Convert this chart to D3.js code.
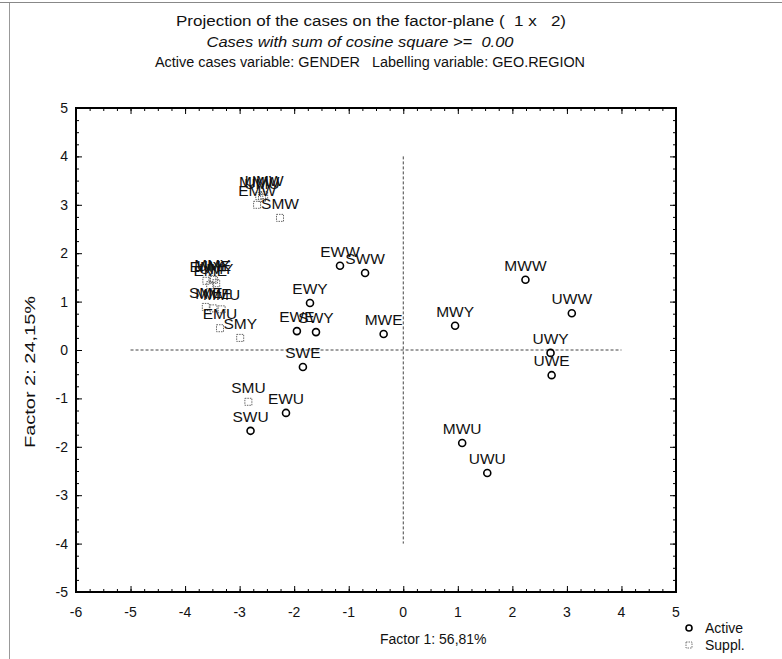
<!DOCTYPE html>
<html>
<head>
<meta charset="utf-8">
<script src="https://cdn.jsdelivr.net/npm/d3@7"></script>
<style>
  html, body { margin: 0; padding: 0; background: #fff; }
  svg { display: block; font-family: "Liberation Sans", Arial, sans-serif; }
  text { white-space: pre; }
</style>
</head>
<body>
<svg id="chart" width="782" height="659"></svg>
<script>
// ---- data ----
const activeLabels = ["EWW","SWW","EWY","EWE","SWY","SWE","EWU","SWU","MWE","MWY","MWW","UWW","UWY","UWE","MWU","UWU"];
const activeX = [-1.16,-0.70,-1.71,-1.95,-1.60,-1.84,-2.15,-2.80,-0.36,0.95,2.24,3.09,2.70,2.72,1.08,1.54];
const activeY = [1.74,1.59,0.97,0.39,0.37,-0.35,-1.30,-1.67,0.33,0.50,1.45,0.76,-0.06,-0.52,-1.92,-2.54];

const supplLabels = ["EMW","MMW","UMW","UMU","SMW","EMY","MMY","UMY","EME","UME","SME","MME","MMU","EMU","SMY","SMU"];
const supplX = [-2.68,-2.64,-2.55,-2.59,-2.26,-3.61,-3.50,-3.43,-3.54,-3.47,-3.62,-3.48,-3.33,-3.36,-2.99,-2.84];
const supplY = [3.00,3.18,3.20,3.14,2.73,1.43,1.47,1.38,1.34,1.45,0.89,0.86,0.84,0.45,0.25,-1.07];

const xTicks = [-6,-5,-4,-3,-2,-1,0,1,2,3,4,5];
const yTicks = [-5,-4,-3,-2,-1,0,1,2,3,4,5];
const titleLines = [
  "Projection of the cases on the factor-plane (  1 x   2)",
  "Cases with sum of cosine square >=  0.00",
  "Active cases variable: GENDER   Labelling variable: GEO.REGION"
];
const xTitle = "Factor 1: 56,81%";
const yTitle = "Factor 2: 24,15%";
const legendItems = ["Active", "Suppl."];

// ---- layout ----
const svg = d3.select("#chart");
const L = 76, R = 676, T = 108, B = 592;
const x = d3.scaleLinear().domain([-6, 5]).range([L, R]);
const y = d3.scaleLinear().domain([-5, 5]).range([B, T]);

// scan borders
svg.append("line").attr("x1", 0).attr("x2", 782).attr("y1", 2.5).attr("y2", 2.5)
  .attr("stroke", "#888").attr("stroke-width", 1);
svg.append("line").attr("x1", 9.5).attr("x2", 9.5).attr("y1", 3).attr("y2", 659)
  .attr("stroke", "#999").attr("stroke-width", 1);

// titles
const tSpec = [
  { cx: 371, y: 26, w: 390 },
  { cx: 360, y: 47, w: 307 },
  { cx: 370, y: 67, w: 430 }
];
titleLines.forEach((t, i) => {
  svg.append("text").attr("x", tSpec[i].cx - tSpec[i].w / 2).attr("y", tSpec[i].y)
    .attr("font-size", 14)
    .attr("textLength", tSpec[i].w).attr("lengthAdjust", "spacingAndGlyphs")
    .attr("font-style", i === 1 ? "italic" : "normal")
    .attr("fill", "#111").text(t);
});

// reference lines
svg.append("line").attr("x1", x(-5)).attr("x2", x(4)).attr("y1", y(0)).attr("y2", y(0))
  .attr("stroke", "#444").attr("stroke-width", 1).attr("stroke-dasharray", "3,2");
svg.append("line").attr("x1", x(0)).attr("x2", x(0)).attr("y1", y(4)).attr("y2", y(-4))
  .attr("stroke", "#444").attr("stroke-width", 1).attr("stroke-dasharray", "3,2");

// axes with inward ticks (major + minor)
const minorX = d3.range(-6, 5.001, 0.25);
const minorY = d3.range(-5, 5.001, 0.25);
svg.append("g").attr("transform", `translate(0,${B})`)
  .call(d3.axisTop(x).tickValues(minorX).tickSize(3).tickFormat(""));
svg.append("g").attr("transform", `translate(0,${T})`)
  .call(d3.axisBottom(x).tickValues(minorX).tickSize(3).tickFormat(""));
svg.append("g").attr("transform", `translate(${L},0)`)
  .call(d3.axisRight(y).tickValues(minorY).tickSize(3).tickFormat(""));
svg.append("g").attr("transform", `translate(${R},0)`)
  .call(d3.axisLeft(y).tickValues(minorY).tickSize(3).tickFormat(""));
svg.append("g").attr("transform", `translate(0,${B})`)
  .call(d3.axisTop(x).tickValues(xTicks).tickSize(6).tickFormat(""));
svg.append("g").attr("transform", `translate(0,${T})`)
  .call(d3.axisBottom(x).tickValues(xTicks).tickSize(6).tickFormat(""));
svg.append("g").attr("transform", `translate(${L},0)`)
  .call(d3.axisRight(y).tickValues(yTicks).tickSize(6).tickFormat(""));
svg.append("g").attr("transform", `translate(${R},0)`)
  .call(d3.axisLeft(y).tickValues(yTicks).tickSize(6).tickFormat(""));
svg.selectAll(".domain").remove();
svg.selectAll(".tick line").attr("stroke", "#000").attr("stroke-width", 1);

// frame
svg.append("rect").attr("x", L).attr("y", T).attr("width", R - L).attr("height", B - T)
  .attr("fill", "none").attr("stroke", "#000").attr("stroke-width", 2);

// tick labels
svg.append("g").selectAll("text").data(xTicks).join("text")
  .attr("x", d => x(d)).attr("y", B + 25).attr("text-anchor", "middle")
  .attr("font-size", 14).attr("fill", "#111").text(d => d);
svg.append("g").selectAll("text").data(yTicks).join("text")
  .attr("x", L - 8).attr("y", d => y(d) + 5).attr("text-anchor", "end")
  .attr("font-size", 14).attr("fill", "#111").text(d => d);

// axis titles
svg.append("text").attr("x", x(0) + 30).attr("y", 644).attr("text-anchor", "middle")
  .attr("font-size", 14).attr("fill", "#111").text(xTitle);
svg.append("text").attr("transform", "translate(35,372) rotate(-90)")
  .attr("x", -76).attr("font-size", 14)
  .attr("textLength", 152).attr("lengthAdjust", "spacingAndGlyphs")
  .attr("fill", "#111").text(yTitle);

// supplementary points (squares)
const supp = supplLabels.map((l, i) => ({ l, x: supplX[i], y: supplY[i] }));
const act = activeLabels.map((l, i) => ({ l, x: activeX[i], y: activeY[i] }));

svg.append("g").selectAll("rect").data(supp).join("rect")
  .attr("x", d => x(d.x) - 3.5).attr("y", d => y(d.y) - 3.5)
  .attr("width", 7).attr("height", 7)
  .attr("fill", "none").attr("stroke", "#666").attr("stroke-width", 1)
  .attr("stroke-dasharray", "1.5,1");
svg.append("g").selectAll("text").data(supp).join("text")
  .attr("x", d => x(d.x)).attr("y", d => y(d.y) - 9)
  .attr("text-anchor", "middle").attr("font-size", 15.5).attr("fill", "#111").text(d => d.l);

// active points (circles)
svg.append("g").selectAll("circle").data(act).join("circle")
  .attr("cx", d => x(d.x)).attr("cy", d => y(d.y)).attr("r", 3.5)
  .attr("fill", "none").attr("stroke", "#000").attr("stroke-width", 1.6);
svg.append("g").selectAll("text").data(act).join("text")
  .attr("x", d => x(d.x)).attr("y", d => y(d.y) - 9)
  .attr("text-anchor", "middle").attr("font-size", 15.5).attr("fill", "#111").text(d => d.l);

// legend
const lg = svg.append("g");
lg.append("circle").attr("cx", 689).attr("cy", 628).attr("r", 3)
  .attr("fill", "none").attr("stroke", "#000").attr("stroke-width", 1.6);
lg.append("rect").attr("x", 686).attr("y", 642).attr("width", 6).attr("height", 6)
  .attr("fill", "none").attr("stroke", "#777").attr("stroke-dasharray", "1.5,1");
legendItems.forEach((t, i) => {
  lg.append("text").attr("x", 705).attr("y", 633 + i * 17).attr("font-size", 14)
    .attr("fill", "#111").text(t);
});
</script>
</body>
</html>
